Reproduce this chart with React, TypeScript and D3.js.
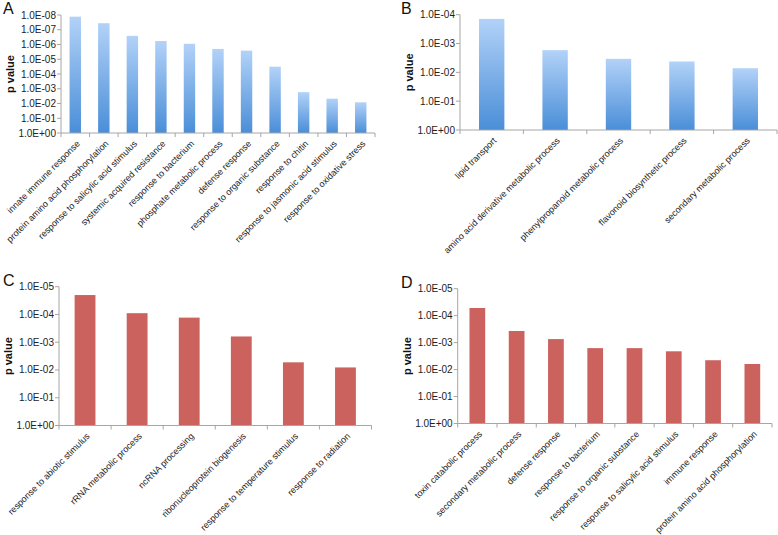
import { useRef, useEffect } from "react";
import * as d3 from "d3";

// Panel A - biological process terms (blue)
const categoriesA = [
  "innate immune response",
  "protein amino acid phosphorylation",
  "response to salicylic acid stimulus",
  "systemic acquired resistance",
  "response to bacterium",
  "phosphate metabolic process",
  "defense response",
  "response to organic substance",
  "response to chitin",
  "response to jasmonic acid stimulus",
  "response to oxidative stress",
];
const valuesA = [1.3e-8, 3.6e-8, 2.6e-7, 5.8e-7, 8.9e-7, 2.0e-6, 2.6e-6, 3.2e-5, 1.7e-3, 4.7e-3, 8.3e-3];
const ticksA = [1e0, 1e-1, 1e-2, 1e-3, 1e-4, 1e-5, 1e-6, 1e-7, 1e-8];

// Panel B
const categoriesB = [
  "lipid transport",
  "amino acid derivative metabolic process",
  "phenylpropanoid metabolic process",
  "flavonoid biosynthetic process",
  "secondary metabolic process",
];
const valuesB = [1.4e-4, 1.7e-3, 3.4e-3, 4.2e-3, 7.2e-3];
const ticksB = [1e0, 1e-1, 1e-2, 1e-3, 1e-4];

// Panel C (red)
const categoriesC = [
  "response to abiotic stimulus",
  "rRNA metabolic process",
  "ncRNA processing",
  "ribonucleoprotein biogenesis",
  "response to temperature stimulus",
  "response to radiation",
];
const valuesC = [2.0e-5, 9.0e-5, 1.3e-4, 6.2e-4, 5.3e-3, 8.1e-3];
const ticksC = [1e0, 1e-1, 1e-2, 1e-3, 1e-4, 1e-5];

// Panel D
const categoriesD = [
  "toxin catabolic process",
  "secondary metabolic process",
  "defense response",
  "response to bacterium",
  "response to organic substance",
  "response to salicylic acid stimulus",
  "immune response",
  "protein amino acid phosphorylation",
];
const valuesD = [5.2e-5, 3.7e-4, 7.4e-4, 1.6e-3, 1.6e-3, 2.1e-3, 4.5e-3, 6.2e-3];
const ticksD = [1e0, 1e-1, 1e-2, 1e-3, 1e-4, 1e-5];

interface PanelSpec {
  letter: string;
  categories: string[];
  values: number[];
  ticks: number[];
  left: number;
  right: number;
  top: number;
  bottom: number;
  red: boolean;
}

const panels: PanelSpec[] = [
  { letter: "A", categories: categoriesA, values: valuesA, ticks: ticksA, left: 61, right: 375, top: 15, bottom: 133, red: false },
  { letter: "B", categories: categoriesB, values: valuesB, ticks: ticksB, left: 460, right: 777, top: 14.7, bottom: 130, red: false },
  { letter: "C", categories: categoriesC, values: valuesC, ticks: ticksC, left: 59, right: 371.5, top: 286.7, bottom: 425.5, red: true },
  { letter: "D", categories: categoriesD, values: valuesD, ticks: ticksD, left: 457.7, right: 772, top: 288.7, bottom: 423.5, red: true },
];

// 1e-8 -> "1.0E-08"
const sci = (v: number) => {
  const e = Math.round(Math.log10(v));
  return "1.0E" + (e < 0 ? "-" : "+") + String(Math.abs(e)).padStart(2, "0");
};

const App = () => {
  const ref = useRef<SVGSVGElement | null>(null);

  useEffect(() => {
    const svg = d3.select(ref.current);
    svg.selectAll("*").remove();

    const defs = svg.append("defs");
    const grad = defs
      .append("linearGradient")
      .attr("id", "blueGrad")
      .attr("x1", 0)
      .attr("y1", 0)
      .attr("x2", 0)
      .attr("y2", 1);
    grad.append("stop").attr("offset", "0%").attr("stop-color", "#b2d2f8");
    grad.append("stop").attr("offset", "100%").attr("stop-color", "#4a8ed8");

    const axisColor = "#a6a6a6";
    const font = "Liberation Sans, Arial, sans-serif";

    panels.forEach((p) => {
      const g = svg.append("g");
      const lowest = p.ticks[p.ticks.length - 1];

      const x = d3.scaleBand<string>().domain(p.categories).range([p.left, p.right]).paddingInner(0.6).paddingOuter(0.3);
      const y = d3.scaleLog().domain([1, lowest]).range([p.bottom, p.top]);

      // bars (grow up from 1.0E+00)
      g.selectAll("rect.bar")
        .data(p.values)
        .enter()
        .append("rect")
        .attr("class", "bar")
        .attr("x", (_, i) => x(p.categories[i]) as number)
        .attr("width", x.bandwidth())
        .attr("y", (d) => y(d))
        .attr("height", (d) => y(1) - y(d))
        .attr("fill", p.red ? "#cc625d" : "url(#blueGrad)");

      // y axis
      g.append("line")
        .attr("x1", p.left)
        .attr("x2", p.left)
        .attr("y1", y(lowest))
        .attr("y2", y(1))
        .attr("stroke", axisColor);
      g.selectAll("line.ytick")
        .data(p.ticks)
        .enter()
        .append("line")
        .attr("class", "ytick")
        .attr("x1", p.left - 4)
        .attr("x2", p.left)
        .attr("y1", (d) => y(d))
        .attr("y2", (d) => y(d))
        .attr("stroke", axisColor);
      g.selectAll("text.ylab")
        .data(p.ticks)
        .enter()
        .append("text")
        .attr("class", "ylab")
        .attr("x", p.left - 5)
        .attr("y", (d) => y(d))
        .attr("dy", "0.35em")
        .attr("text-anchor", "end")
        .attr("font-family", font)
        .attr("font-size", 10)
        .attr("fill", "#222")
        .text((d) => sci(d));

      // x axis with ticks at the band edges
      g.append("line")
        .attr("x1", p.left)
        .attr("x2", p.right)
        .attr("y1", y(1))
        .attr("y2", y(1))
        .attr("stroke", axisColor);
      const step = x.step();
      g.selectAll("line.xtick")
        .data(d3.range(p.categories.length + 1))
        .enter()
        .append("line")
        .attr("class", "xtick")
        .attr("x1", (i) => p.left + i * step)
        .attr("x2", (i) => p.left + i * step)
        .attr("y1", y(1))
        .attr("y2", y(1) + 4)
        .attr("stroke", axisColor);

      g.selectAll("text.xlab")
        .data(p.categories)
        .enter()
        .append("text")
        .attr("class", "xlab")
        .attr("transform", (d) => `translate(${(x(d) as number) + x.bandwidth() / 2 + 3},${y(1) + 9}) rotate(-45)`)
        .attr("dy", "0.35em")
        .attr("text-anchor", "end")
        .attr("font-family", font)
        .attr("font-size", 9)
        .attr("fill", "#222")
        .text((d) => d);

      // axis title
      const midY = (y(1) + y(lowest)) / 2;
      g.append("text")
        .attr("transform", `translate(${p.left - 47},${midY}) rotate(-90)`)
        .attr("text-anchor", "middle")
        .attr("font-family", font)
        .attr("font-size", 11)
        .attr("font-weight", "bold")
        .attr("fill", "#111")
        .text("p value");

      // panel letter
      g.append("text")
        .attr("x", p.left < 300 ? 3 : 401)
        .attr("y", p.top - 1)
        .attr("font-family", font)
        .attr("font-size", 16)
        .attr("fill", "#111")
        .text(p.letter);
    });
  }, []);

  return (
    <div style={{ position: "absolute", left: 0, top: 0 }}>
      <svg ref={ref} width={778} height={535} style={{ display: "block", background: "#fff" }} />
    </div>
  );
};

export default App;
